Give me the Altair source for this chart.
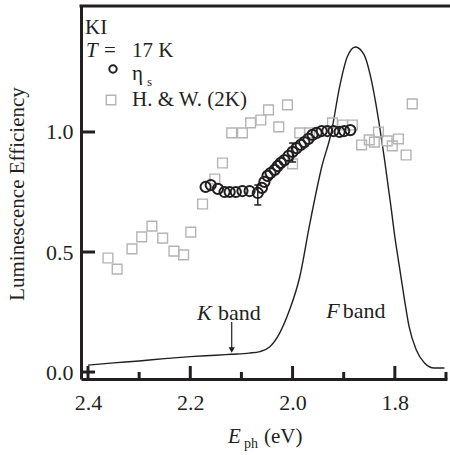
import altair as alt
import pandas as pd

# ---------------- data ----------------
# H. & W. (2K) squares
hw_E = [2.361, 2.343, 2.314, 2.295, 2.275, 2.254, 2.232, 2.213, 2.199, 2.176,
        2.152, 2.137, 2.119, 2.098, 2.082, 2.062, 2.047, 2.010, 2.027, 2.000,
        1.986, 1.967, 1.922, 1.902, 1.883, 1.865, 1.850, 1.832, 1.840, 1.815,
        1.805, 1.793, 1.778, 1.766]
hw_eff = [0.475, 0.429, 0.513, 0.563, 0.608, 0.558, 0.504, 0.488, 0.583, 0.700,
          0.804, 0.871, 0.996, 0.996, 1.038, 1.050, 1.092, 1.113, 1.021, 0.867,
          0.996, 0.996, 1.038, 1.029, 1.029, 0.946, 0.967, 1.000, 0.958, 0.963,
          0.942, 0.971, 0.904, 1.117]

# eta_s circles
eta_E = [2.170, 2.160, 2.146, 2.133, 2.123, 2.111, 2.098, 2.084, 2.068, 2.060,
         2.055, 2.049, 2.043, 2.035, 2.029, 2.023, 2.016, 2.008, 2.000, 1.992,
         1.984, 1.977, 1.969, 1.961, 1.953, 1.943, 1.932, 1.920, 1.908, 1.899,
         1.887]
eta_eff = [0.771, 0.779, 0.763, 0.750, 0.750, 0.750, 0.754, 0.754, 0.746, 0.767,
           0.792, 0.817, 0.829, 0.842, 0.858, 0.871, 0.883, 0.900, 0.917, 0.933,
           0.946, 0.958, 0.971, 0.988, 0.996, 1.004, 1.004, 1.004, 1.000, 1.004,
           1.008]

# error bars
err_E = [2.068, 2.000]
err_lo = [0.696, 0.875]
err_hi = [0.779, 0.954]

# absorption spectrum (F band)
curve_E = [2.400, 2.350, 2.300, 2.250, 2.200, 2.150, 2.120, 2.085, 2.064, 2.045,
           2.025, 2.006, 1.986, 1.967, 1.943, 1.924, 1.908, 1.893, 1.877, 1.860,
           1.846, 1.834, 1.820, 1.807, 1.801, 1.791, 1.781, 1.772, 1.758, 1.742,
           1.723, 1.703]
curve_y = [0.029, 0.038, 0.046, 0.056, 0.064, 0.070, 0.074, 0.079, 0.085, 0.104,
           0.163, 0.258, 0.396, 0.610, 0.854, 1.000, 1.188, 1.313, 1.354, 1.321,
           1.217, 1.079, 0.883, 0.680, 0.579, 0.438, 0.300, 0.188, 0.092, 0.038,
           0.017, 0.017]

x_major = [2.4, 2.2, 2.0, 1.8]
x_minor = [2.3, 2.1, 1.9, 1.7]
y_major = [0.0, 0.5, 1.0]

# annotation labels inside plot (data coordinates)
ann_E = [2.187, 2.146, 1.934, 1.902]
ann_y = [0.217, 0.217, 0.225, 0.225]
ann_t = ["K", "band", "F", "band"]
ann_italic = [True, False, True, False]

FONT = "Liberation Serif, Times New Roman, DejaVu Serif, serif"
FS = 22
LFS = 21
INK = "#231f20"
GRAY = "#b4b4b4"

W, H = 366, 374
xs = alt.Scale(domain=[1.698, 2.4137], reverse=True, nice=False, zero=False)
ys = alt.Scale(domain=[-0.029, 1.529], nice=False, zero=False)

xax = alt.Axis(values=x_major, format=".1f", ticks=False, grid=False,
               labelFont=FONT, labelFontSize=FS, labelColor=INK, labelPadding=13,
               domainColor=INK, domainWidth=3, title=None, labelFlush=False)
yax = alt.Axis(values=y_major, format=".1f", ticks=False, grid=False,
               labelFont=FONT, labelFontSize=FS, labelColor=INK, labelPadding=8,
               domainColor=INK, domainWidth=3, title=None)

hw_df = pd.DataFrame({"E": hw_E, "eff": hw_eff})
eta_df = pd.DataFrame({"E": eta_E, "eff": eta_eff})
err_df = pd.DataFrame({"E": err_E, "lo": err_lo, "hi": err_hi})
cur_df = pd.DataFrame({"E": curve_E, "y": curve_y})
ann_df = pd.DataFrame({"E": ann_E, "y": ann_y, "t": ann_t, "it": ann_italic})

curve = alt.Chart(cur_df).mark_line(color=INK, strokeWidth=1.4, interpolate="monotone").encode(
    x=alt.X("E:Q", scale=xs, axis=xax), y=alt.Y("y:Q", scale=ys, axis=yax))

hw = alt.Chart(hw_df).mark_point(shape="square", size=95, color=GRAY, strokeWidth=1.4,
                                 filled=False, opacity=1).encode(
    x=alt.X("E:Q", scale=xs), y=alt.Y("eff:Q", scale=ys))

eta = alt.Chart(eta_df).mark_point(shape="circle", size=105, color=INK, strokeWidth=2,
                                   filled=False, opacity=1).encode(
    x=alt.X("E:Q", scale=xs), y=alt.Y("eff:Q", scale=ys))

err = alt.Chart(err_df).mark_rule(color=INK, strokeWidth=1.5).encode(
    x=alt.X("E:Q", scale=xs), y=alt.Y("lo:Q", scale=ys), y2="hi:Q")
cap_lo = alt.Chart(err_df).mark_tick(orient="horizontal", color=INK, size=7, thickness=1.5,
                                     opacity=1).encode(
    x=alt.X("E:Q", scale=xs), y=alt.Y("lo:Q", scale=ys))
cap_hi = alt.Chart(err_df).mark_tick(orient="horizontal", color=INK, size=7, thickness=1.5,
                                     opacity=1).encode(
    x=alt.X("E:Q", scale=xs), y=alt.Y("hi:Q", scale=ys))

# inward ticks
xmaj_df = pd.DataFrame({"E": x_major})
xmin_df = pd.DataFrame({"E": x_minor})
ymaj_df = pd.DataFrame({"v": y_major})
xt_major = alt.Chart(xmaj_df).mark_rule(color=INK, strokeWidth=3).encode(
    x=alt.X("E:Q", scale=xs), y=alt.value(H), y2=alt.value(H - 13))
xt_minor = alt.Chart(xmin_df).mark_rule(color=INK, strokeWidth=3).encode(
    x=alt.X("E:Q", scale=xs), y=alt.value(H), y2=alt.value(H - 7))
yt_major = alt.Chart(ymaj_df).mark_rule(color=INK, strokeWidth=3).encode(
    y=alt.Y("v:Q", scale=ys), x=alt.value(0), x2=alt.value(14))
top_line = alt.Chart(ymaj_df.head(1)).mark_rule(color=INK, strokeWidth=3).encode(
    y=alt.value(1), x=alt.value(-1.5), x2=alt.value(W + 5))

# arrow for K band
arrow_df = pd.DataFrame({"E": [2.119], "top": [0.208], "bot": [0.095], "tip": [0.092]})
arrow_line = alt.Chart(arrow_df).mark_rule(color=INK, strokeWidth=1.2).encode(
    x=alt.X("E:Q", scale=xs), y=alt.Y("top:Q", scale=ys), y2="bot:Q")
arrow_head = alt.Chart(arrow_df).mark_point(shape="triangle-down", filled=True, color=INK,
                                            size=40, opacity=1).encode(
    x=alt.X("E:Q", scale=xs), y=alt.Y("tip:Q", scale=ys))

ann_it = alt.Chart(ann_df).transform_filter("datum.it").mark_text(
    font=FONT, fontSize=FS, color=INK, align="left", baseline="alphabetic", fontStyle="italic"
).encode(x=alt.X("E:Q", scale=xs), y=alt.Y("y:Q", scale=ys), text="t:N")
ann_rm = alt.Chart(ann_df).transform_filter("!datum.it").mark_text(
    font=FONT, fontSize=FS, color=INK, align="left", baseline="alphabetic"
).encode(x=alt.X("E:Q", scale=xs), y=alt.Y("y:Q", scale=ys), text="t:N")


def txt(s, x, y, size=FS, style="normal", align="left", angle=0, baseline="alphabetic"):
    kw = dict(text=s, font=FONT, fontSize=size, color=INK, align=align,
              baseline=baseline, fontStyle=style)
    if angle:
        kw["angle"] = angle
    return alt.Chart(ymaj_df.head(1)).mark_text(**kw).encode(x=alt.value(x), y=alt.value(y))


texts = [
    txt("KI", 4, 29, size=LFS),
    txt("T", 5, 52, style="italic", size=LFS),
    txt("=", 23, 52, size=LFS),
    txt("17 K", 51, 52, size=LFS),
    txt("η", 51, 75, size=LFS),
    txt("s", 66, 81, size=13),
    txt("H. & W. (2K)", 51, 101, size=LFS),
    txt("E", 147, 438, style="italic", size=21),
    txt("ph", 163, 443, size=14),
    txt("(eV)", 183, 438, size=21),
    txt("Luminescence Efficiency", -57, 189, angle=270, align="center", size=21),
]

leg_c = alt.Chart(ymaj_df.head(1)).mark_point(shape="circle", size=55, color=INK, strokeWidth=2,
                                              filled=False, opacity=1).encode(x=alt.value(32), y=alt.value(64))
leg_s = alt.Chart(ymaj_df.head(1)).mark_point(shape="square", size=90, color=GRAY, strokeWidth=1.4,
                                              filled=False, opacity=1).encode(x=alt.value(30), y=alt.value(95))

chart = alt.layer(
    curve, hw, eta, err, cap_lo, cap_hi,
    xt_major, xt_minor, yt_major, top_line,
    arrow_line, arrow_head, ann_it, ann_rm, leg_c, leg_s, *texts
).properties(
    width=W, height=H,
    padding={"left": 81, "top": 5, "right": 3, "bottom": 76},
    autosize=alt.AutoSizeParams(type="none"),
    background="white",
).configure_view(stroke=None)

chart.save("out.html", embed_options={"renderer": "svg", "actions": False})
